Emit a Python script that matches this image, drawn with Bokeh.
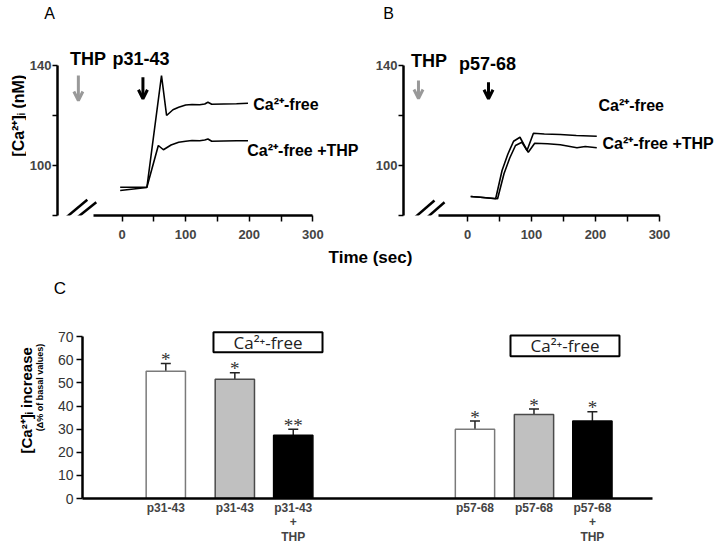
import math
from bokeh.plotting import figure
from bokeh.layouts import column, row
from bokeh.models import (ColumnDataSource, FixedTicker, Label, Arrow, OpenHead,
                          TeeHead, Whisker, BoxAnnotation, Range1d)
from bokeh.embed import file_html
from bokeh.resources import INLINE

# ---------------- data ----------------
# Panel A: [Ca2+]i (nM) vs time (sec), p31-43
a_free_t = [-3, 39, 62, 70, 80, 89, 100, 110, 122, 130, 135, 141, 160, 180, 198]
a_free_y = [90.0, 91.2, 136, 120, 122.3, 123.3, 124.2, 124.4, 124.3, 124.6, 125.3, 124.5, 124.6, 124.7, 124.9]
a_thp_t = [-3, 39, 57, 65, 77, 89, 100, 110, 122, 130, 135, 141, 160, 180, 198]
a_thp_y = [91.3, 91.3, 108, 106.3, 108.2, 109.3, 109.7, 110, 109.9, 110.2, 110.6, 109.7, 109.8, 109.9, 109.9]

# Panel B: p57-68
b_free_t = [5, 20, 44, 54, 63, 72, 82, 93, 103, 120, 145, 170, 202]
b_free_y = [87.6, 87.3, 86.7, 98, 104.5, 109.7, 111.3, 106, 112.9, 112.6, 112.4, 112.0, 111.7]
b_thp_t = [5, 20, 47, 57, 66, 75, 85, 95, 105, 125, 145, 171, 184, 202]
b_thp_y = [87.6, 87.3, 86.7, 96.7, 103, 108, 109.3, 105.3, 108.9, 108.7, 108.3, 107.1, 107.6, 107.1]

time_ticks = [0, 100, 200, 300]
time_minor = [50, 150, 250]
ca_ticks = [100, 140]
ca_minor = [80, 120]

# Panel C: [Ca2+]i increase (% of basal)
bar_labels = ["p31-43", "p31-43", "p31-43\n+\nTHP", "p57-68", "p57-68", "p57-68\n+\nTHP"]
bar_vals = [55.1, 51.6, 27.4, 30.0, 36.4, 33.5]
bar_err = [3.3, 2.8, 2.6, 3.5, 2.3, 4.0]
bar_sig = ["*", "*", "**", "*", "*", "*"]
bar_pos = [1, 2.17, 3.16, 6.24, 7.24, 8.23]
c_ticks = [0, 10, 20, 30, 40, 50, 60, 70]

bar_fill = ["white", "#c0c0c0", "black", "white", "#c0c0c0", "black"]
bar_line = ["#7a7a7a", "#4a4a4a", "black", "#7a7a7a", "#4a4a4a", "black"]

FONT = "Liberation Sans"


def base_fig(width, height, xr, yr, ml=0, mb=0, axes=True):
    kw = {}
    if not axes:
        kw = dict(x_axis_type=None, y_axis_type=None)
    p = figure(width=width, height=height, x_range=Range1d(*xr), y_range=Range1d(*yr),
               output_backend="svg", toolbar_location=None,
               min_border_left=ml, min_border_right=0, min_border_top=0,
               min_border_bottom=mb, **kw)
    p.outline_line_color = None
    p.grid.visible = False
    p.background_fill_color = "white"
    p.border_fill_color = "white"
    return p


def style_time_axes(p):
    xa = p.xaxis[0]
    xa.ticker = FixedTicker(ticks=time_ticks, minor_ticks=time_minor)
    xa.bounds = (-45, 300)
    xa.axis_line_width = 2.5
    xa.major_tick_out = 6
    xa.major_tick_in = 0
    xa.minor_tick_out = 6
    xa.minor_tick_in = 0
    xa.major_tick_line_width = 1.5
    xa.minor_tick_line_width = 1.5
    xa.major_label_text_font = FONT
    xa.major_label_text_font_style = "bold"
    xa.major_label_text_font_size = "13px"
    xa.major_label_standoff = 8
    ya = p.yaxis[0]
    ya.ticker = FixedTicker(ticks=ca_ticks, minor_ticks=ca_minor)
    ya.bounds = (80, 140)
    ya.axis_line_width = 2.5
    ya.major_tick_out = 5
    ya.major_tick_in = 0
    ya.minor_tick_out = 5
    ya.minor_tick_in = 0
    ya.major_tick_line_width = 1.5
    ya.minor_tick_line_width = 1.5
    ya.major_label_text_font = FONT
    ya.major_label_text_font_style = "bold"
    ya.major_label_text_font_size = "13px"
    ya.major_label_standoff = 1


def txt(p, x, y, text, size, bold=True, align="left", color="black", angle=0.0, font=FONT):
    p.add_layout(Label(x=x, y=y, text=text, text_font=font,
                       text_font_style="bold" if bold else "normal",
                       text_font_size=size, text_align=align, text_baseline="middle",
                       text_color=color, angle=angle))


def arrow(p, x, y0, y1, color):
    p.add_layout(Arrow(x_start=x, y_start=y0, x_end=x, y_end=y1, line_color=color,
                       line_width=3,
                       end=OpenHead(size=9, line_width=3, line_color=color)))


def brk(p, segs):
    for (x0, y0, x1, y1) in segs:
        p.add_layout(Arrow(x_start=x0, y_start=y0, x_end=x1, y_end=y1, end=None,
                           line_width=2.5, line_color="black"))


# ---------------- top strip (panel letters) ----------------
top = base_fig(726, 24, (0, 726), (24, 0), axes=False)
txt(top, 49, 13, "A", "16px", bold=False, align="center")
txt(top, 388, 13, "B", "16px", bold=False, align="center")

# ---------------- Panel A ----------------
la = base_fig(26, 224, (0, 26), (248, 24), axes=False)
txt(la, 18, 131, "[Ca\u00b2\u207a]\u1d62 (nM)", "16px", align="center", angle=math.pi / 2)

pa = base_fig(338, 224, (-101.5625, 381.25), (80, 156.4), 29, 33)
style_time_axes(pa)
pa.line(a_free_t, a_free_y, line_color="black", line_width=1.6)
pa.line(a_thp_t, a_thp_y, line_color="black", line_width=1.6)
txt(pa, -53.4, 142.8, "THP", "18px", align="center")
txt(pa, 29.7, 142.8, "p31-43", "18px", align="center")
arrow(pa, -68.75, 136, 126, "#999999")
arrow(pa, 32.8, 135.3, 126.7, "black")
txt(pa, 206.2, 124.4, "Ca\u00b2\u207a-free", "16px")
txt(pa, 196.9, 106.0, "Ca\u00b2\u207a-free +THP", "16px")
brk(pa, [(-93.75, 78.0, -54.7, 86.3), (-80.8, 77.1, -40.6, 85.3)])

# ---------------- Panel B ----------------
pb = base_fig(362, 224, (-100, 404.69), (80, 156.4), 39, 33)
style_time_axes(pb)
pb.line(b_free_t, b_free_y, line_color="black", line_width=1.6)
pb.line(b_thp_t, b_thp_y, line_color="black", line_width=1.6)
txt(pb, -60.2, 142.0, "THP", "18px", align="center")
txt(pb, 31.25, 140.8, "p57-68", "18px", align="center")
arrow(pb, -76.6, 134, 126.8, "#999999")
arrow(pb, 32.8, 133.3, 126.7, "black")
txt(pb, 204.7, 124.0, "Ca\u00b2\u207a-free", "16px")
txt(pb, 210.9, 108.8, "Ca\u00b2\u207a-free +THP", "16px")
brk(pb, [(-89.1, 77.7, -51.6, 86.0), (-73.4, 76.9, -35.9, 85.3)])

# ---------------- middle strip ----------------
mid = base_fig(726, 52, (0, 726), (300, 248), axes=False)
txt(mid, 370, 257, "Time (sec)", "17px", align="center")
txt(mid, 59.5, 288, "C", "17px", bold=False, align="center")

# ---------------- Panel C ----------------
lc = base_fig(50, 248, (0, 50), (548, 300), axes=False)
txt(lc, 26, 425, "[Ca\u00b2\u207a]\u1d62 increase", "15px", align="center", angle=math.pi / 2)
txt(lc, 39.5, 409, "(\u0394% of basal values)", "9px", align="center", angle=math.pi / 2)

pc = base_fig(676, 248, (-0.4119, 10.503), (0, 85.71), 32, 50)
src = ColumnDataSource(dict(pos=bar_pos, val=bar_vals,
                            upper=[v + e for v, e in zip(bar_vals, bar_err)],
                            sig=bar_sig, fill=bar_fill, line=bar_line))
pc.vbar(x="pos", top="val", bottom=0, width=0.666, source=src,
        fill_color="fill", line_color="line", line_width=1.5)
pc.add_layout(Whisker(source=src, base="pos", lower="val", upper="upper",
                      dimension="height", line_width=1.5, line_color="#222222",
                      upper_head=TeeHead(size=10, line_width=1.5, line_color="#222222"),
                      lower_head=None))
pc.text(x="pos", y="upper", text="sig", source=src, text_align="center",
        text_baseline="alphabetic", text_font_size="19px", text_color="#333333",
        text_font=FONT, y_offset=-4)

xa = pc.xaxis[0]
xa.ticker = FixedTicker(ticks=bar_pos)
xa.major_label_overrides = {p_: l_ for p_, l_ in zip(bar_pos, bar_labels)}
xa.bounds = (-0.4119, 9.249)
xa.axis_line_width = 2.5
xa.major_tick_out = 0
xa.major_tick_in = 0
xa.minor_tick_out = 0
xa.minor_tick_in = 0
xa.major_label_text_font = FONT
xa.major_label_text_font_style = "bold"
xa.major_label_text_font_size = "12px"
xa.major_label_text_line_height = 1.05
xa.major_label_standoff = 2

ya = pc.yaxis[0]
ya.ticker = FixedTicker(ticks=c_ticks)
ya.bounds = (0, 70)
ya.axis_line_width = 2.5
ya.major_tick_out = 6
ya.major_tick_in = 0
ya.minor_tick_out = 0
ya.minor_tick_in = 0
ya.major_tick_line_width = 1.5
ya.major_label_text_font = FONT
ya.major_label_text_font_size = "14px"
ya.major_label_text_color = "#333333"
ya.major_label_standoff = 3

for (l, r, b, t, cx, cy) in [(1.808, 3.656, 63.3, 72.0, 2.732, 67.65),
                             (6.842, 8.689, 61.6, 70.6, 7.766, 66.1)]:
    pc.add_layout(BoxAnnotation(left=l, right=r, bottom=b, top=t, fill_color="white",
                                fill_alpha=1, line_color="black", line_width=2, line_alpha=1))
    txt(pc, cx, cy, "Ca\u00b2\u207a-free", "17px", bold=False, align="center",
        color="#222222", font="Open Sans")

layout = column(top, row(la, pa, pb), mid, row(lc, pc))
open("out.html", "w").write(file_html(layout, INLINE))
